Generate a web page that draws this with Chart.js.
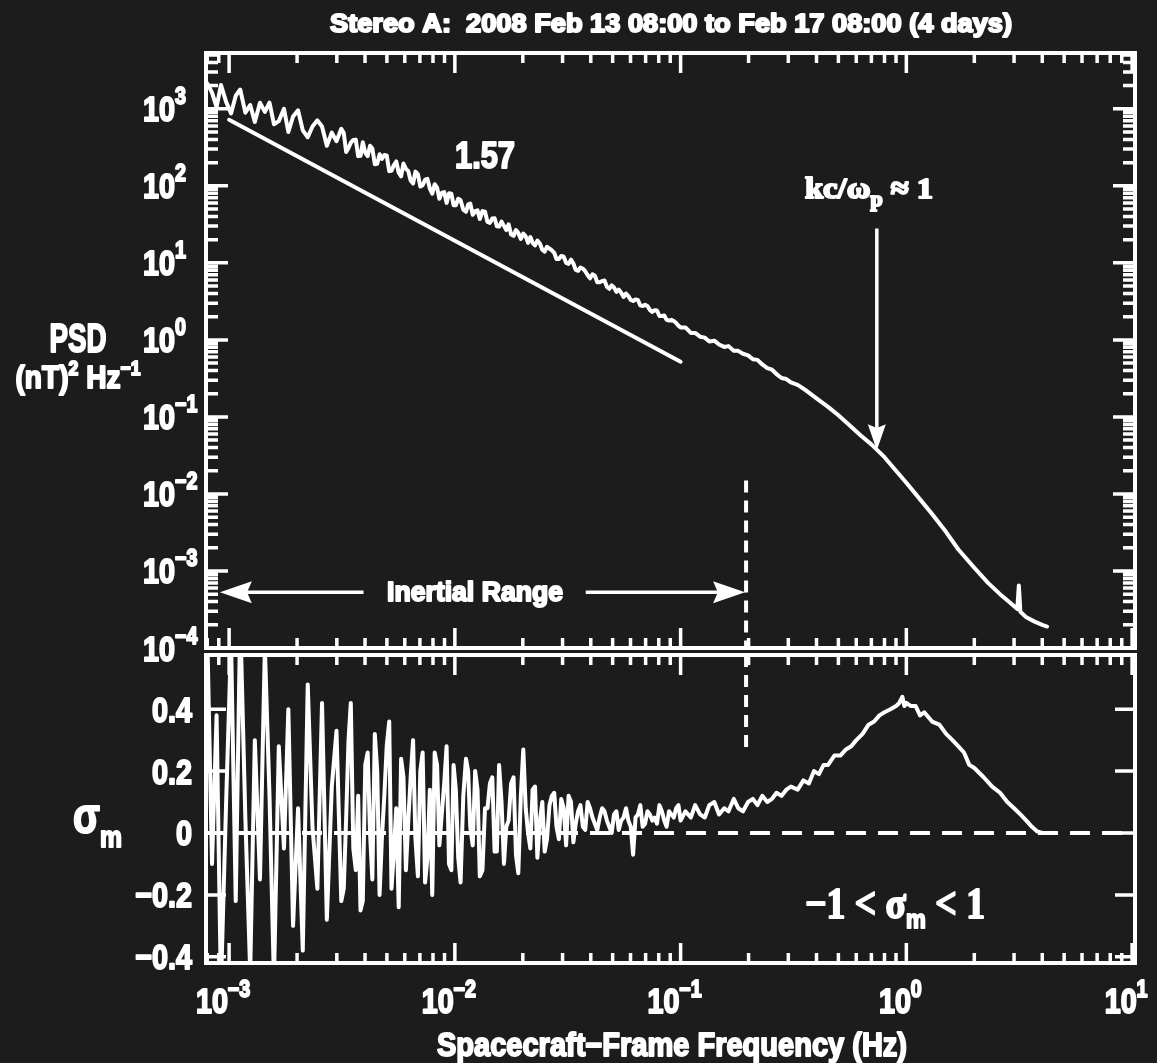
<!DOCTYPE html>
<html>
<head>
<meta charset="utf-8">
<script src="https://cdn.jsdelivr.net/npm/chart.js@4.4.1/dist/chart.umd.min.js"></script>
<style>
  html, body { margin: 0; padding: 0; background: #1c1c1c; }
  #wrap { position: relative; width: 1157px; height: 1063px; }
  canvas { position: absolute; left: 0; top: 0; }
</style>
</head>
<body>
<div id="wrap">
  <canvas id="psdChart" width="1157" height="1063"></canvas>
  <canvas id="sigmaChart" width="1157" height="1063"></canvas>
</div>
<script>
// axis ranges
const xMin = 7.9e-4, xMax = 10.3;
const psdMin = 1e-4, psdMax = 5.3e3;
const sigmaMin = -0.42, sigmaMax = 0.575;

// tick labels
const freqDecades = [1e-3, 1e-2, 1e-1, 1, 10];
const freqExponents = ['−3', '−2', '−1', '0', '1'];
const psdDecades = [1e3, 1e2, 1e1, 1, 1e-1, 1e-2, 1e-3, 1e-4];
const psdExponents = ['3', '2', '1', '0', '−1', '−2', '−3', '−4'];
const sigmaTicks = [0.4, 0.2, 0, -0.2, -0.4];
const sigmaTickText = ['0.4', '0.2', '0', '−0.2', '−0.4'];

// spectrum, noisy low-frequency part (Hz)
const lowFreq = [0.00080, 0.00084, 0.00088, 0.00092, 0.00097, 0.00102, 0.00107, 0.00112, 0.00118, 0.00124,
  0.0013, 0.00137, 0.00144, 0.00151, 0.00158, 0.00166, 0.00175, 0.00183, 0.00192, 0.00202,
  0.00212, 0.00223, 0.00234, 0.00246, 0.00258, 0.00271, 0.00285, 0.00299, 0.00314, 0.0033,
  0.00346, 0.00364, 0.00382, 0.00401, 0.00421, 0.00442, 0.00464, 0.00487, 0.00512, 0.00537,
  0.00564, 0.00592, 0.00622, 0.00653, 0.00686, 0.0072, 0.00756, 0.00794, 0.00834, 0.00875,
  0.00919, 0.00965, 0.0101, 0.0106, 0.0112, 0.0117, 0.0123, 0.0129, 0.0136, 0.0143,
  0.015, 0.0157, 0.0165, 0.0173, 0.0182, 0.0191, 0.0201, 0.0211, 0.0221, 0.0232,
  0.0244, 0.0256, 0.0269, 0.0282, 0.0296, 0.0311, 0.0327, 0.0343, 0.036, 0.0378,
  0.0397, 0.0417, 0.0438, 0.046, 0.0483, 0.0507, 0.0532, 0.0559, 0.0587, 0.0616,
  0.0647, 0.0679, 0.0713, 0.0749, 0.0786, 0.0826, 0.0867, 0.091, 0.0956, 0.1,
  0.105, 0.111, 0.116, 0.122, 0.128, 0.134, 0.141, 0.148, 0.156, 0.163,
  0.172, 0.18, 0.189, 0.199, 0.209, 0.219, 0.23, 0.242, 0.254, 0.266,
  0.28, 0.294, 0.308];
const psdLow = [2140, 1620, 1050, 2040, 1230, 870, 1480, 1780, 890, 1120,
  676, 1200, 912, 1200, 631, 692, 1000, 501, 794, 955,
  525, 427, 589, 708, 589, 331, 490, 380, 550, 275,
  363, 398, 245, 269, 331, 191, 257, 251, 155, 186,
  148, 195, 155, 107, 141, 102, 123, 79, 95, 81,
  60, 79, 56, 65, 46, 59, 47, 37, 46, 33,
  38, 29.5, 30.2, 31.6, 22.4, 24.5, 24.0, 18.2, 18.2, 19.5,
  14.8, 16.2, 14.5, 11.2, 12.3, 10.0, 11.0, 8.1, 8.7, 7.8,
  6.3, 6.8, 5.6, 5.9, 4.6, 4.8, 4.5, 3.6, 3.7, 3.2,
  3.3, 2.75, 2.75, 2.3, 2.4, 2.04, 1.82, 1.82, 1.66, 1.45,
  1.45, 1.23, 1.23, 1.10, 1.07, 0.955, 0.977, 0.87, 0.81, 0.83,
  0.72, 0.72, 0.66, 0.63, 0.56, 0.55, 0.48, 0.43, 0.41, 0.36,
  0.32, 0.31, 0.28];
const sigmaLow = [0.65, -0.10, 0.38, -0.50, 0.10, 0.62, -0.22, 0.70, 0.05, -0.45,
  0.30, -0.15, 0.60, 0.12, -0.48, 0.28, -0.05, 0.40, -0.30, 0.08,
  -0.38, 0.48, 0.02, -0.18, 0.42, -0.28, 0.15, 0.33, -0.22, 0.05,
  0.42, -0.12, -0.25, 0.22, 0.00, 0.32, -0.20, 0.12, 0.36, -0.06,
  -0.24, 0.18, 0.04, 0.30, -0.14, 0.26, -0.08, -0.20, 0.22, 0.06,
  0.28, -0.12, 0.14, -0.16, 0.24, 0.02, 0.20, -0.14, 0.08, 0.16,
  -0.06, 0.22, -0.10, 0.04, 0.18, -0.13, 0.27, 0.00, 0.14, -0.08,
  0.10, -0.02, 0.12, 0.02, 0.11, -0.04, 0.10, 0.03, 0.09, 0.01,
  0.08, 0.03, 0.05, 0.07, 0.02, 0.06, 0.01, 0.05, 0.04, -0.07,
  0.06, 0.02, 0.07, 0.04, 0.03, 0.07, 0.02, 0.06, 0.08, 0.04,
  0.07, 0.05, 0.09, 0.06, 0.05, 0.09, 0.10, 0.06, 0.08, 0.07,
  0.11, 0.08, 0.07, 0.10, 0.11, 0.09, 0.12, 0.10, 0.11, 0.13,
  0.12, 0.14, 0.15];

// extra spectral bins between the ones above (3 mHz - 0.1 Hz)
const midFreq = [0.00322, 0.00338, 0.00355, 0.00373, 0.00391, 0.00411, 0.00431, 0.00453, 0.00475, 0.00499,
  0.00524, 0.0055, 0.00578, 0.00607, 0.00637, 0.00669, 0.00703, 0.00738, 0.00775, 0.00814,
  0.00854, 0.00897, 0.00942, 0.00987, 0.01035, 0.0109, 0.01145, 0.012, 0.0126, 0.01325,
  0.01395, 0.01465, 0.01535, 0.0161, 0.0169, 0.01775, 0.01865, 0.0196, 0.0206, 0.0216,
  0.02265, 0.0238, 0.025, 0.02625, 0.02755, 0.0289, 0.03035, 0.0319, 0.0335, 0.03515,
  0.0369, 0.03875, 0.0407, 0.04275, 0.0449, 0.04715, 0.0495, 0.05195, 0.05455, 0.0573,
  0.06015, 0.06315, 0.0663, 0.0696, 0.0731, 0.07675, 0.0806, 0.08465, 0.08885, 0.0933,
  0.0978];
const psdMid = [484, 309, 394, 243, 367, 243, 305, 193, 224, 248,
  157, 207, 133, 166, 117, 153, 98, 120, 92, 105,
  68, 83, 80, 56, 68, 49, 57, 42, 48, 47,
  34, 37.6, 29.9, 34.3, 26.6, 23.4, 26.6, 20.4, 22.1, 21.6,
  16.8, 17.8, 14.0, 15.3, 13.5, 11.2, 12.0, 9.7, 9.8, 7.9,
  8.4, 6.9, 7.1, 5.6, 5.8, 4.9, 5.1, 4.2, 4.1, 4.0,
  3.3, 3.35, 2.8, 2.85, 2.45, 2.43, 2.04, 2.07, 1.78, 1.76,
  1.53];
const sigmaMid = [-0.18, 0.30, -0.05, 0.12, -0.22, 0.26, -0.15, 0.20, -0.02, 0.28,
  -0.18, 0.08, 0.24, -0.12, 0.18, -0.02, 0.20, -0.16, 0.14, 0.26,
  -0.04, 0.16, -0.10, 0.22, -0.08, 0.12, 0.20, -0.04, 0.14, -0.12,
  0.08, 0.18, -0.06, 0.10, 0.02, 0.16, -0.07, 0.12, 0.08, -0.05,
  0.15, 0.04, -0.06, 0.09, 0.13, -0.02, 0.08, 0.12, -0.03, 0.07,
  0.02, 0.10, 0.05, 0.01, 0.08, 0.04, 0.00, 0.07, 0.04, 0.08,
  0.02, 0.05, 0.09, 0.03, 0.06, 0.05, 0.09, 0.04, 0.07, 0.05,
  0.09];

// smoother high-frequency part
const psdHighFreq = [0.33, 0.36, 0.4, 0.45, 0.5, 0.56, 0.63, 0.7, 0.8, 0.9, 1.0, 1.15, 1.3,
  1.5, 1.7, 2.0, 2.3, 2.6, 2.9, 3.1, 3.15, 3.2, 3.4, 3.7, 4.0, 4.2];
const psdHigh = [0.26, 0.22, 0.174, 0.135, 0.105, 0.078, 0.057, 0.044, 0.030, 0.020, 0.014, 0.0085, 0.0055,
  0.0032, 0.0019, 0.0011, 7.0e-4, 5.0e-4, 3.8e-4, 3.2e-4, 6.5e-4, 2.95e-4, 2.5e-4, 2.2e-4, 2.0e-4, 1.9e-4];
const sigmaHighFreq = [0.33, 0.35, 0.37, 0.39, 0.41, 0.43, 0.45, 0.48, 0.51, 0.54, 0.57, 0.6, 0.64, 0.68,
  0.72, 0.76, 0.8, 0.85, 0.9, 0.93, 0.96, 0.98, 1.0, 1.05, 1.1, 1.15, 1.2, 1.3, 1.4, 1.5, 1.6,
  1.7, 1.8, 1.9, 2.0, 2.2, 2.4, 2.6, 2.8, 3.0, 3.2, 3.4, 3.6, 3.8, 4.0];
const sigmaHigh = [0.14, 0.17, 0.16, 0.20, 0.19, 0.22, 0.22, 0.25, 0.25, 0.27, 0.28, 0.30, 0.32, 0.35,
  0.36, 0.38, 0.39, 0.40, 0.41, 0.42, 0.44, 0.41, 0.42, 0.41, 0.41, 0.38, 0.39, 0.36, 0.35, 0.32, 0.30,
  0.28, 0.26, 0.22, 0.21, 0.18, 0.15, 0.13, 0.10, 0.08, 0.06, 0.04, 0.02, 0.005, 0.0];

// power-law guide (index 1.57)
const guideFreq = [1e-3, 0.1];
const guidePsd = [720, 0.52];

// annotations (data units)
const rangeEdgeFreq = 0.195;
const rangeDashTopPsd = 0.015;
const rangeDashBottomSigma = 0.27;
const inertialArrowPsd = 5.3e-4;
const inertialLeftFreq = [9.1e-4, 3.94e-3];
const inertialRightFreq = [0.038, 0.193];
const breakFreq = 0.74;
const breakArrowPsd = [28, 0.037];

function toPoints(xs, ys) { return xs.map((v, i) => ({ x: v, y: ys[i] })); }
function byX(a, b) { return a.x - b.x; }

function logMinor(lo, hi) {
  const out = [];
  for (let e = Math.floor(Math.log10(lo)); e <= Math.ceil(Math.log10(hi)); e++) {
    for (let m = 2; m <= 9; m++) {
      const v = m * Math.pow(10, e);
      if (v >= lo && v <= hi) out.push(v);
    }
  }
  return out;
}

function fontOf(p) {
  return 'bold ' + p.size + 'px ' + (p.serif ? '"Liberation Serif", "DejaVu Serif", serif' : '"Liberation Sans", Arial, sans-serif');
}

// draw a run of text pieces (for super/subscripts), squeezed horizontally
function drawParts(ctx, parts, o) {
  ctx.save();
  ctx.fillStyle = '#fff';
  ctx.strokeStyle = '#fff';
  ctx.lineJoin = 'round';
  ctx.textBaseline = 'alphabetic';
  ctx.textAlign = 'left';
  const ws = parts.map(p => { ctx.font = fontOf(p); return ctx.measureText(p.t).width; });
  const nat = ws.reduce((s, w) => s + w, 0);
  const sx = o.width ? o.width / nat : (o.sx || 1);
  const total = nat * sx;
  let cx = o.align === 'center' ? o.x - total / 2 : o.align === 'right' ? o.x - total : o.x;
  parts.forEach((p, i) => {
    ctx.font = fontOf(p);
    ctx.save();
    ctx.translate(cx, o.y + (p.dy || 0));
    ctx.scale(sx, 1);
    ctx.fillText(p.t, 0, 0);
    ctx.lineWidth = o.heavy || 2;
    ctx.strokeText(p.t, 0, 0);
    ctx.restore();
    cx += ws[i] * sx;
  });
  ctx.restore();
}

function arrowHead(ctx, tx, ty, dx, dy, len, half) {
  // dx,dy: unit direction the arrow points to
  const bx = tx - dx * len, by = ty - dy * len;
  ctx.beginPath();
  ctx.moveTo(tx, ty);
  ctx.lineTo(bx - dy * half, by + dx * half);
  ctx.lineTo(bx + dx * len * 0.15, by + dy * len * 0.15);
  ctx.lineTo(bx + dy * half, by - dx * half);
  ctx.closePath();
  ctx.fill();
}

function framePlugin(opts) {
  return {
    id: 'frame',
    afterDatasetsDraw(chart) {
      const { ctx, chartArea: a } = chart;
      const sx = chart.scales.x, sy = chart.scales.y;
      ctx.save();
      ctx.strokeStyle = '#fff';
      ctx.lineWidth = 3.5;
      ctx.beginPath();
      opts.xTicks.forEach(([v, len]) => {
        const p = sx.getPixelForValue(v);
        ctx.moveTo(p, a.top); ctx.lineTo(p, a.top + len);
        ctx.moveTo(p, a.bottom); ctx.lineTo(p, a.bottom - len);
      });
      opts.yTicks.forEach(([v, len]) => {
        const p = sy.getPixelForValue(v);
        ctx.moveTo(a.left, p); ctx.lineTo(a.left + len, p);
        ctx.moveTo(a.right, p); ctx.lineTo(a.right - len, p);
      });
      ctx.stroke();
      ctx.lineWidth = 4;
      ctx.strokeRect(a.left, a.top, a.right - a.left, a.bottom - a.top);
      ctx.restore();
      opts.extra(chart);
    }
  };
}

const xTickList = freqDecades.map(v => [v, 20]).concat(logMinor(xMin, xMax).map(v => [v, 10]));
const psdTickList = psdDecades.map(v => [v, 22]).concat(logMinor(psdMin, psdMax).map(v => [v, 12]));
const sigmaTickList = sigmaTicks.map(v => [v, 20]);

const lineStyle = { borderColor: '#fff', borderWidth: 4, pointRadius: 0, tension: 0, fill: false,
  borderJoinStyle: 'round', borderCapStyle: 'round' };

function baseOptions(padTop, padBottom, yScale) {
  return {
    responsive: false,
    animation: false,
    events: [],
    layout: { padding: { left: 206, right: 22, top: padTop, bottom: padBottom } },
    plugins: { legend: { display: false }, tooltip: { enabled: false } },
    scales: {
      x: { type: 'logarithmic', min: xMin, max: xMax, display: false },
      y: Object.assign({ display: false }, yScale)
    }
  };
}

const psdPoints = toPoints(lowFreq, psdLow).concat(toPoints(midFreq, psdMid)).sort(byX)
  .concat(toPoints(psdHighFreq, psdHigh));
const sigmaPoints = toPoints(lowFreq, sigmaLow).concat(toPoints(midFreq, sigmaMid)).sort(byX)
  .concat(toPoints(sigmaHighFreq, sigmaHigh));

new Chart(document.getElementById('psdChart'), {
  type: 'line',
  data: {
    datasets: [
      Object.assign({ data: psdPoints }, lineStyle),
      Object.assign({ data: toPoints(guideFreq, guidePsd) }, lineStyle),
      Object.assign({ data: [{ x: rangeEdgeFreq, y: rangeDashTopPsd }, { x: rangeEdgeFreq, y: psdMin }],
        borderDash: [12, 8] }, lineStyle, { borderCapStyle: 'butt' })
    ]
  },
  options: baseOptions(53, 415, { type: 'logarithmic', min: psdMin, max: psdMax }),
  plugins: [framePlugin({
    xTicks: xTickList,
    yTicks: psdTickList,
    extra(chart) {
      const ctx = chart.ctx, sx = chart.scales.x, sy = chart.scales.y;
      drawParts(ctx, [{ t: 'Stereo A:  2008 Feb 13 08:00 to Feb 17 08:00 (4 days)', size: 25 }],
        { x: 671, y: 32, align: 'center', width: 682 });
      psdDecades.forEach((v, i) => {
        drawParts(ctx, [{ t: '10', size: 35 }, { t: psdExponents[i], size: 24, dy: -17 }],
          { x: 143, y: sy.getPixelForValue(v) + 12.5, align: 'left', sx: 0.82 });
      });
      drawParts(ctx, [{ t: 'PSD', size: 40 }], { x: 78, y: 352, align: 'center', width: 57 });
      drawParts(ctx, [{ t: '(nT)', size: 32 }, { t: '2', size: 20, dy: -13 }, { t: ' Hz', size: 32 }, { t: '−1', size: 20, dy: -13 }],
        { x: 78, y: 388, align: 'center', width: 125 });
      drawParts(ctx, [{ t: '1.57', size: 36 }], { x: 485, y: 168, align: 'center', width: 60 });
      drawParts(ctx, [{ t: 'kc/ω', size: 30, serif: true }, { t: 'p', size: 20, serif: true, dy: 8 }, { t: ' ≈ 1', size: 30, serif: true }],
        { x: 869, y: 198, align: 'center', width: 128 });
      drawParts(ctx, [{ t: 'Inertial Range', size: 27 }], { x: 475, y: 601, align: 'center', width: 176 });

      ctx.save();
      ctx.strokeStyle = '#fff';
      ctx.fillStyle = '#fff';
      ctx.lineWidth = 3.5;
      const ay = sy.getPixelForValue(inertialArrowPsd);
      const l0 = sx.getPixelForValue(inertialLeftFreq[0]), l1 = sx.getPixelForValue(inertialLeftFreq[1]);
      const r0 = sx.getPixelForValue(inertialRightFreq[0]), r1 = sx.getPixelForValue(inertialRightFreq[1]);
      ctx.beginPath();
      ctx.moveTo(l0 + 20, ay); ctx.lineTo(l1, ay);
      ctx.moveTo(r0, ay); ctx.lineTo(r1 - 20, ay);
      const bx = sx.getPixelForValue(breakFreq);
      const by0 = sy.getPixelForValue(breakArrowPsd[0]), by1 = sy.getPixelForValue(breakArrowPsd[1]);
      ctx.moveTo(bx, by0); ctx.lineTo(bx, by1 - 15);
      ctx.stroke();
      arrowHead(ctx, l0, ay, -1, 0, 32, 11);
      arrowHead(ctx, r1, ay, 1, 0, 32, 11);
      arrowHead(ctx, bx, by1, 0, 1, 26, 9);
      ctx.restore();
    }
  })]
});

new Chart(document.getElementById('sigmaChart'), {
  type: 'line',
  data: {
    datasets: [
      Object.assign({ data: [{ x: xMin, y: 0 }, { x: xMax, y: 0 }], borderDash: [20, 12] }, lineStyle, { borderCapStyle: 'butt' }),
      Object.assign({ data: sigmaPoints }, lineStyle),
      Object.assign({ data: [{ x: rangeEdgeFreq, y: sigmaMax }, { x: rangeEdgeFreq, y: rangeDashBottomSigma }],
        borderDash: [12, 8] }, lineStyle, { borderCapStyle: 'butt' })
    ]
  },
  options: baseOptions(655, 100, { type: 'linear', min: sigmaMin, max: sigmaMax }),
  plugins: [framePlugin({
    xTicks: xTickList,
    yTicks: sigmaTickList,
    extra(chart) {
      const ctx = chart.ctx, sx = chart.scales.x, sy = chart.scales.y;
      sigmaTicks.forEach((v, i) => {
        drawParts(ctx, [{ t: sigmaTickText[i], size: 35 }],
          { x: 192, y: sy.getPixelForValue(v) + 12.5, align: 'right', sx: 0.82 });
      });
      freqDecades.forEach((v, i) => {
        drawParts(ctx, [{ t: '10', size: 35 }, { t: freqExponents[i], size: 24, dy: -16 }],
          { x: sx.getPixelForValue(v) - 6, y: 1013, align: 'center', sx: 0.82 });
      });
      drawParts(ctx, [{ t: 'Spacecraft−Frame Frequency (Hz)', size: 33 }], { x: 672, y: 1056, align: 'center', width: 470 });
      drawParts(ctx, [{ t: 'σ', size: 50 }], { x: 73, y: 833, align: 'left', width: 27 });
      drawParts(ctx, [{ t: 'm', size: 30 }], { x: 100, y: 847, align: 'left', width: 22 });
      drawParts(ctx, [{ t: '−1 < σ', size: 44, serif: true }, { t: 'm', size: 26, dy: 10 }, { t: ' < 1', size: 44, serif: true }],
        { x: 895, y: 918, align: 'center', width: 180 });
    }
  })]
});
</script>
</body>
</html>
